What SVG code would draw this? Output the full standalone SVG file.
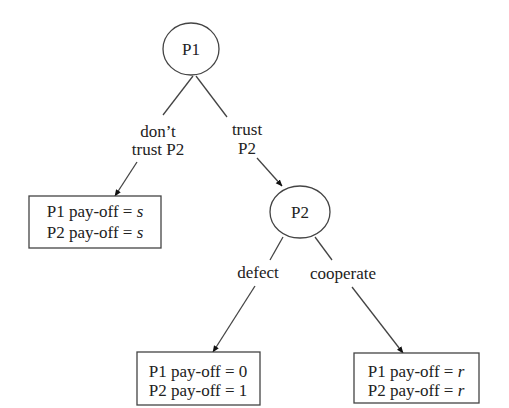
<svg xmlns="http://www.w3.org/2000/svg" width="509" height="408" viewBox="0 0 509 408">
<style>
.n{fill:#fff;stroke:#444;stroke-width:1.3}
.t{font-family:'Liberation Serif','Times New Roman',Times,'DejaVu Serif',serif;font-size:17px;fill:#222;text-anchor:middle}
.e{stroke:#444;stroke-width:1.3;fill:none}
</style>
<defs>
<marker id="a" viewBox="0 0 10 10" refX="9" refY="5" markerWidth="7" markerHeight="7" orient="auto" markerUnits="userSpaceOnUse">
<path d="M0,1 L10,5 L0,9 z" fill="#111"/>
</marker>
</defs>
<rect width="509" height="408" fill="#fff"/>
<g id="connectors">
<line class="e" x1="193" y1="76" x2="163" y2="115"/>
<line class="e" x1="196" y1="76" x2="227" y2="117"/>
<line class="e" x1="137" y1="162" x2="115" y2="196" marker-end="url(#a)"/>
<line class="e" x1="257" y1="158" x2="282" y2="186" marker-end="url(#a)"/>
<line class="e" x1="283" y1="237" x2="270" y2="260"/>
<line class="e" x1="315" y1="237" x2="332" y2="260"/>
<line class="e" x1="255" y1="286" x2="213" y2="352" marker-end="url(#a)"/>
<line class="e" x1="352" y1="287" x2="403" y2="353" marker-end="url(#a)"/>
<text class="t" x="158" y="137">don’t</text>
<text class="t" x="158" y="155">trust P2</text>
<text class="t" x="247" y="135">trust</text>
<text class="t" x="247" y="154">P2</text>
<text class="t" x="258" y="278">defect</text>
<text class="t" x="343" y="279">cooperate</text>
</g>
<g id="P1">
<ellipse class="n" cx="191" cy="49" rx="28" ry="26"/>
<text class="t" x="191" y="55">P1</text>
</g>
<g id="P2">
<ellipse class="n" cx="300" cy="212" rx="30" ry="26"/>
<text class="t" x="300" y="218">P2</text>
</g>
<g id="leaf1">
<rect class="n" x="29" y="196" width="132" height="52"/>
<text class="t" x="95" y="217">P1 pay-off = <tspan font-style="italic">s</tspan></text>
<text class="t" x="95" y="238">P2 pay-off = <tspan font-style="italic">s</tspan></text>
</g>
<g id="leaf2">
<rect class="n" x="137" y="352" width="123" height="53"/>
<text class="t" x="198" y="377">P1 pay-off = 0</text>
<text class="t" x="198" y="396">P2 pay-off = 1</text>
</g>
<g id="leaf3">
<rect class="n" x="354" y="353" width="125" height="50"/>
<text class="t" x="416" y="377">P1 pay-off = <tspan font-style="italic">r</tspan></text>
<text class="t" x="416" y="396">P2 pay-off = <tspan font-style="italic">r</tspan></text>
</g>
</svg>
